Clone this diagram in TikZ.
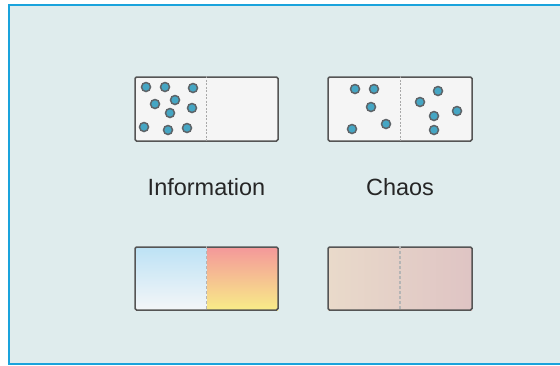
\documentclass[tikz,border=0pt]{standalone}
\usepackage{fontspec}
\setmainfont{Liberation Sans}
\definecolor{panelbg}{HTML}{DFECED}
\definecolor{panelline}{HTML}{1AA3DC}
\definecolor{boxfill}{HTML}{F5F5F5}
\definecolor{boxline}{HTML}{555555}
\definecolor{divline}{HTML}{A8A8A8}
\definecolor{dotfill}{HTML}{45A6C4}
\definecolor{dotline}{HTML}{5E6468}
\definecolor{coldtop}{HTML}{BDE2F5}
\definecolor{coldbot}{HTML}{F4F6F8}
\definecolor{hottop}{HTML}{F4989A}
\definecolor{hotbot}{HTML}{F8EC88}
\definecolor{mixleft}{HTML}{E9DACA}
\definecolor{mixright}{HTML}{DFC4C4}
\tikzset{
  x=1pt, y=-1pt,
  container/.style={draw=boxline, line width=1.5pt, rounded corners=1.5pt},
  divider/.style={draw=divline, line width=1pt, dash pattern=on 2pt off 1.5pt},
  heatdivider/.style={draw=divline!85, line width=1.6pt, dash pattern=on 3pt off 2pt},
  particle/.style={circle, fill=dotfill, draw=dotline, line width=1.5pt,
    inner sep=0pt, minimum size=9pt},
  caption/.style={font=\fontsize{23.5}{28}\selectfont, text=black!85}
}
\begin{document}
\begin{tikzpicture}
\useasboundingbox (0,0) rectangle (560,365);
% background panel
\fill[white] (0,0) rectangle (560,365);
\filldraw[fill=panelbg, draw=panelline, line width=2pt] (9,5) rectangle (570,364);

% top-left: particles confined to one half
\node[container, fill=boxfill, minimum width=143pt, minimum height=64pt, inner sep=0pt]
  (info) at (206.5,109) {};
\draw[divider] (info.north) -- (info.south);
\foreach \px/\py [count=\i] in {146/87,165/87,193/88,175/100,155/104,192/108,170/113,144/127,168/130,187/128}
  \node[particle] (ia\i) at (\px,\py) {};

% top-right: particles spread over both halves
\node[container, fill=boxfill, minimum width=144pt, minimum height=64pt, inner sep=0pt]
  (chaos) at (400,109) {};
\draw[divider] (chaos.north) -- (chaos.south);
\foreach \px/\py [count=\i] in {355/89,374/89,371/107,352/129,386/124,438/91,420/102,457/111,434/116,434/130}
  \node[particle] (cb\i) at (\px,\py) {};

% captions
\node[caption] (infolabel) at (206.5,187) {Information};
\node[caption] (chaoslabel) at (400,187) {Chaos};

% bottom-left: cold and hot halves
\shade[top color=coldtop, bottom color=coldbot] (135,247) rectangle (207,310);
\shade[top color=hottop, bottom color=hotbot] (207,247) rectangle (278,310);
\node[container, minimum width=143pt, minimum height=63pt, inner sep=0pt]
  (heat) at (206.5,278.5) {};
\draw[heatdivider] (heat.north) -- (heat.south);

% bottom-right: mixed temperature
\shade[left color=mixleft, right color=mixright] (328,247) rectangle (472,310);
\node[container, minimum width=144pt, minimum height=63pt, inner sep=0pt]
  (mixed) at (400,278.5) {};
\draw[heatdivider] (mixed.north) -- (mixed.south);
\end{tikzpicture}
\end{document}
